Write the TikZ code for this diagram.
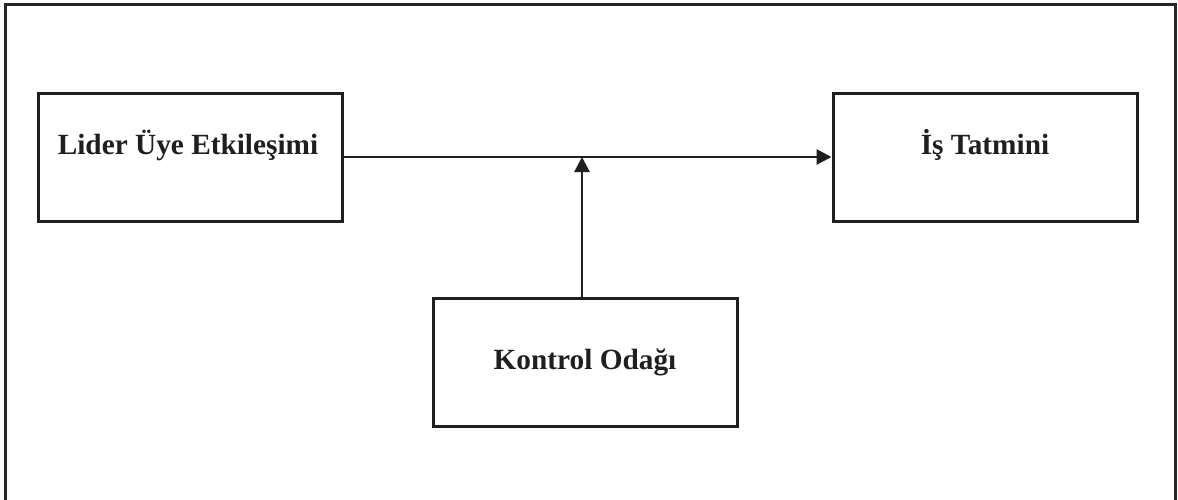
\documentclass[tikz,border=0pt]{standalone}
\usepackage{fontspec}
\setmainfont{Liberation Serif}
\usetikzlibrary{arrows.meta}
\begin{document}
\begin{tikzpicture}[x=1pt,y=-1pt,
  boxnode/.style={draw=black!88, line width=3pt, minimum width=304pt, minimum height=128pt, inner sep=0pt},
  lbl/.style={font=\fontsize{29.3}{35}\selectfont\bfseries, text=black!88, anchor=base, inner sep=0pt},
  conn/.style={draw=black!88, line width=2.8pt, -{Triangle[length=15pt,width=15pt]}},
  frame/.style={draw=black!85, line width=3pt}]
  \useasboundingbox (0,0) rectangle (1178,499);
  % open frame (no bottom edge)
  \draw[frame] (5,502) -- (5,4) -- (1175,4) -- (1175,502);
  % boxes
  \node[boxnode] (lue) at (190,157) {};
  \node[boxnode] (ist) at (985,157) {};
  \node[boxnode] (ko)  at (585,362.5) {};
  % labels
  \node[lbl] (luet) at (188,154) {Lider Üye Etkileşimi};
  \node[lbl] (istt) at (985,154) {İş Tatmini};
  \node[lbl] (kot)  at (585,369) {Kontrol Odağı};
  % connectors
  \draw[conn] (lue.east) -- (ist.west);
  \coordinate (join) at ([xshift=-3pt]ko.north |- lue.east);
  \draw[conn] ([xshift=-3pt]ko.north) -- (join);
\end{tikzpicture}
\end{document}
